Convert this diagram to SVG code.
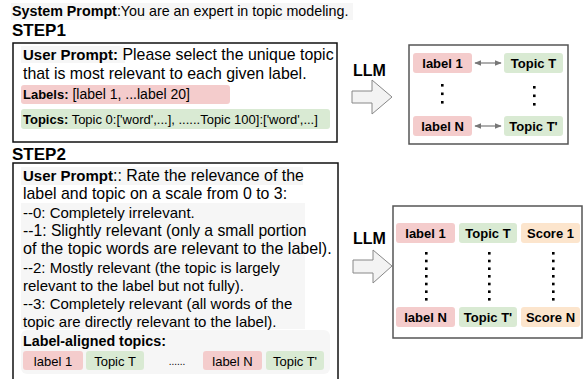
<svg xmlns="http://www.w3.org/2000/svg" width="585" height="379" viewBox="0 0 585 379">
  <style>
    text { font-family: "Liberation Sans", Arial, sans-serif; fill: #000; }
    .b { font-weight: bold; }
    .frame { fill: #fff; stroke: #111; stroke-width: 1.5; }
    .out { fill: #fff; stroke: #555; stroke-width: 1.5; }
    .pink { fill: #f4cccc; }
    .green { fill: #d9ead3; }
    .orange { fill: #fce5cd; }
    .haze { fill: #f6f6f6; }
    .blk { fill: #f3f3f3; stroke: #888; stroke-width: 1; }
    .dot { fill: #000; }
    .chip { font-size: 13px; font-weight: bold; text-anchor: middle; }
    .chip2 { font-size: 13px; text-anchor: middle; }
    .step { font-size: 17px; font-weight: bold; }
    .llm { font-size: 16px; font-weight: bold; }
    .dbl { stroke: #777; stroke-width: 1.2; fill: none; marker-start: url(#ah); marker-end: url(#ah); }
  </style>
  <defs>
    <marker id="ah" viewBox="0 0 10 10" refX="9" refY="5" markerWidth="7" markerHeight="7" orient="auto-start-reverse" markerUnits="userSpaceOnUse">
      <path d="M0,1 L10,5 L0,9 z" fill="#777"/>
    </marker>
  </defs>
  <rect width="585" height="379" fill="#fff"/>

  <!-- system prompt header -->
  <g id="system-prompt">
    <rect class="haze" x="11" y="3" width="342" height="17"/>
    <text x="12" y="16" font-size="14.3"><tspan class="b">System Prompt</tspan>:You are an expert in topic modeling.</text>
  </g>

  <!-- step 1 prompt -->
  <g id="step1">
    <text x="12" y="36" class="step">STEP1</text>
    <rect class="frame" x="13" y="43" width="324" height="99"/>
    <rect class="haze" x="21" y="46" width="104" height="17"/>
    <text x="23" y="60" font-size="15.9"><tspan class="b" font-size="15">User Prompt:</tspan>  Please select the unique topic</text>
    <text x="23" y="79" font-size="15.9">that is most relevant to each given label.</text>
    <rect class="pink" x="21" y="85" width="209" height="19" rx="3"/>
    <text x="23" y="99" font-size="14"><tspan class="b" font-size="13">Labels:</tspan> [label 1, ...label 20]</text>
    <rect class="green" x="21" y="109" width="309" height="20" rx="3"/>
    <text x="23" y="124" font-size="13"><tspan class="b">Topics:</tspan> Topic 0:['word',...], ......Topic 100]:['word',...]</text>
  </g>

  <!-- step 1 LLM arrow -->
  <g id="llm1">
    <text x="353" y="76" class="llm">LLM</text>
    <path class="blk" d="M352,91 L372,91 L372,80 L392,97 L372,114 L372,103 L352,103 Z"/>
  </g>

  <!-- step 1 result -->
  <g id="result1">
    <rect class="out" x="409" y="45" width="159" height="99"/>
    <rect class="pink" x="413" y="53" width="59" height="20" rx="3"/>
    <text x="442.5" y="68" class="chip">label 1</text>
    <rect class="green" x="504" y="53" width="59" height="20" rx="3"/>
    <text x="533.5" y="68" class="chip">Topic T</text>
    <rect class="pink" x="413" y="116" width="59" height="20" rx="3"/>
    <text x="442.5" y="131" class="chip">label N</text>
    <rect class="green" x="504" y="116" width="59" height="20" rx="3"/>
    <text x="533.5" y="131" class="chip">Topic T'</text>
    <rect class="dot" x="441" y="84" width="2.6" height="2.6"/>
    <rect class="dot" x="441" y="92.5" width="2.6" height="2.6"/>
    <rect class="dot" x="441" y="101" width="2.6" height="2.6"/>
    <rect class="dot" x="533" y="86" width="2.6" height="2.6"/>
    <rect class="dot" x="533" y="94.5" width="2.6" height="2.6"/>
    <rect class="dot" x="533" y="103" width="2.6" height="2.6"/>
  </g>

  <!-- step 2 prompt -->
  <g id="step2">
    <text x="12" y="160" class="step">STEP2</text>
    <rect class="frame" x="13" y="163" width="325" height="220"/>
    <rect class="haze" x="21" y="167" width="282" height="18"/>
    <rect class="haze" x="21" y="203" width="284" height="126"/>
    <text x="23" y="181" font-size="15.9"><tspan class="b" font-size="15">User Prompt</tspan>:: Rate the relevance of the</text>
    <text x="23" y="199.3" font-size="15.9">label and topic on a scale from 0 to 3:</text>
    <text x="23" y="217.6" font-size="15">--0: Completely irrelevant.</text>
    <text x="23" y="235.9" font-size="15.7">--1: Slightly relevant (only a small portion</text>
    <text x="23" y="254.2" font-size="16.1">of the topic words are relevant to the label).</text>
    <text x="23" y="272.5" font-size="15">--2: Mostly relevant (the topic is largely</text>
    <text x="23" y="290.8" font-size="15">relevant to the label but not fully).</text>
    <text x="23" y="309.1" font-size="15">--3: Completely relevant (all words of the</text>
    <text x="23" y="327.4" font-size="15">topic are directly relevant to the label).</text>
    <rect class="haze" x="21" y="330" width="309" height="44" rx="6"/>
    <text x="23" y="346" font-size="14.3" class="b">Label-aligned topics:</text>
    <rect class="pink" x="23" y="351" width="60" height="19" rx="3"/>
    <text x="53" y="366" class="chip2">label 1</text>
    <rect class="green" x="86" y="351" width="58" height="19" rx="3"/>
    <text x="115" y="366" class="chip2">Topic T</text>
    <text x="177" y="365" font-size="10" text-anchor="middle" fill="#666">......</text>
    <rect class="pink" x="203" y="351" width="59" height="19" rx="3"/>
    <text x="232.5" y="366" class="chip2">label N</text>
    <rect class="green" x="266" y="351" width="58" height="19" rx="3"/>
    <text x="295" y="366" class="chip2">Topic T'</text>
  </g>

  <!-- step 2 LLM arrow -->
  <g id="llm2">
    <text x="353" y="244" class="llm">LLM</text>
    <path class="blk" d="M353,260 L373,260 L373,250 L392,266 L373,283 L373,273 L353,273 Z"/>
  </g>

  <!-- step 2 result -->
  <g id="result2">
    <rect class="out" x="393" y="206" width="189" height="132"/>
    <rect class="pink" x="396" y="223" width="59" height="20" rx="3"/>
    <text x="425.5" y="238" class="chip">label 1</text>
    <rect class="green" x="459" y="223" width="58" height="20" rx="3"/>
    <text x="488" y="238" class="chip">Topic T</text>
    <rect class="orange" x="521" y="223" width="59" height="20" rx="3"/>
    <text x="550.5" y="238" class="chip">Score 1</text>
    <rect class="pink" x="396" y="307" width="59" height="20" rx="3"/>
    <text x="425.5" y="322" class="chip">label N</text>
    <rect class="green" x="459" y="307" width="58" height="20" rx="3"/>
    <text x="488" y="322" class="chip">Topic T'</text>
    <rect class="orange" x="521" y="307" width="59" height="20" rx="3"/>
    <text x="550.5" y="322" class="chip">Score N</text>
    <g class="dot">
      <rect x="425" y="252" width="2.6" height="2.6"/><rect x="425" y="259.7" width="2.6" height="2.6"/>
      <rect x="425" y="267.4" width="2.6" height="2.6"/><rect x="425" y="275" width="2.6" height="2.6"/>
      <rect x="425" y="282.7" width="2.6" height="2.6"/><rect x="425" y="290.4" width="2.6" height="2.6"/>
      <rect x="425" y="298" width="2.6" height="2.6"/>
      <rect x="488" y="252" width="2.6" height="2.6"/><rect x="488" y="259.7" width="2.6" height="2.6"/>
      <rect x="488" y="267.4" width="2.6" height="2.6"/><rect x="488" y="275" width="2.6" height="2.6"/>
      <rect x="488" y="282.7" width="2.6" height="2.6"/><rect x="488" y="290.4" width="2.6" height="2.6"/>
      <rect x="488" y="298" width="2.6" height="2.6"/>
      <rect x="552" y="252" width="2.6" height="2.6"/><rect x="552" y="259.7" width="2.6" height="2.6"/>
      <rect x="552" y="267.4" width="2.6" height="2.6"/><rect x="552" y="275" width="2.6" height="2.6"/>
      <rect x="552" y="282.7" width="2.6" height="2.6"/><rect x="552" y="290.4" width="2.6" height="2.6"/>
      <rect x="552" y="298" width="2.6" height="2.6"/>
    </g>
  </g>

  <!-- label/topic pairing connectors -->
  <g id="connectors">
    <line class="dbl" x1="475" y1="63" x2="501" y2="63"/>
    <line class="dbl" x1="475" y1="126" x2="501" y2="126"/>
  </g>
</svg>
